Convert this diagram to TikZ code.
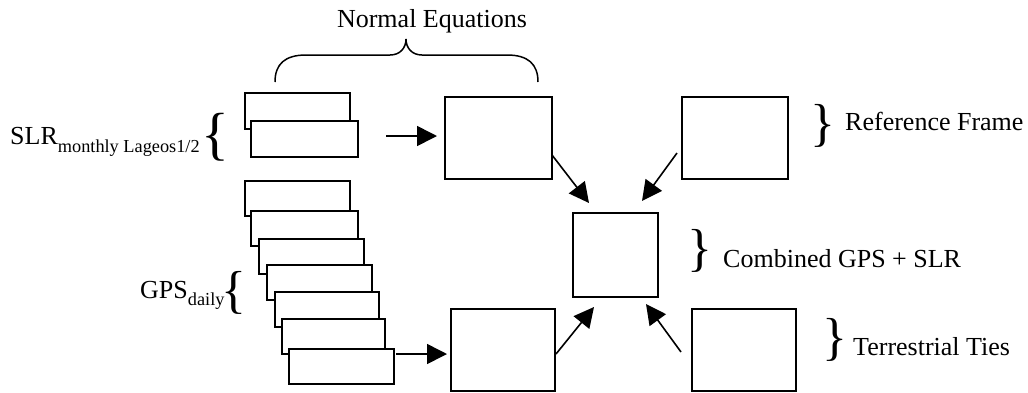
\documentclass[tikz,border=0pt]{standalone}
\usepackage{fontspec}
\setmainfont{Liberation Serif}
\usetikzlibrary{arrows.meta}
\begin{document}
\begin{tikzpicture}[x=1pt,y=-1pt,
  box/.style 2 args={draw, fill=white, line width=1.6pt, inner sep=0pt,
    minimum width=#1pt, minimum height=#2pt, anchor=north west},
  arr/.style={line width=1.6pt, -{Triangle[length=20pt,width=20pt]}},
  lab/.style={inner sep=0pt, font=\fontsize{26}{30}\selectfont},
  brc/.style={inner sep=0pt, font=\fontsize{#1}{#1}\selectfont}]
\useasboundingbox (0,0) rectangle (1028,392);

% SLR stack
\node[box={105}{36}] (s1) at (244,92) {};
\node[box={107}{36}] (s2) at (250,120) {};
% GPS stack
\node[box={105}{35}] (g1) at (244,180) {};
\node[box={107}{35}] (g2) at (250,210) {};
\node[box={105}{35}] (g3) at (258,238) {};
\node[box={105}{35}] (g4) at (266,264) {};
\node[box={104}{35}] (g5) at (274,291) {};
\node[box={103}{35}] (g6) at (281,318) {};
\node[box={105}{35}] (g7) at (288,348) {};

% main boxes
\node[box={107}{82}] (ne1) at (444,96) {};
\node[box={104}{82}] (ne2) at (450,308) {};
\node[box={85}{84}] (cmb) at (572,212) {};
\node[box={106}{82}] (ref) at (681,96) {};
\node[box={104}{82}] (ter) at (691,308) {};

% horizontal arrows
\coordinate (a1s) at (386,136);
\draw[arr, shorten >=7pt] (a1s) -- (a1s -| ne1.west);
\coordinate (a2s) at (396,354);
\draw[arr, shorten >=3pt] (a2s) -- (a2s -| ne2.west);

% diagonal arrows
\coordinate (d1s) at (552,155); \coordinate (d1e) at (589,203);
\coordinate (d2s) at (677,153); \coordinate (d2e) at (642,201);
\coordinate (d3s) at (556,354); \coordinate (d3e) at (594,307);
\coordinate (d4s) at (681,352); \coordinate (d4e) at (646,304);
\draw[arr] (d1s) -- (d1e);
\draw[arr] (d2s) -- (d2e);
\draw[arr] (d3s) -- (d3e);
\draw[arr] (d4s) -- (d4e);

% top brace
\draw[line width=1.5pt] (275,82) .. controls (275,64) and (285,55) .. (306,55)
  -- (390,55) .. controls (400,55) and (406,48) .. (406,39)
  .. controls (406,48) and (412,55) .. (422,55)
  -- (507,55) .. controls (528,55) and (538,64) .. (538,82);
\node[lab, anchor=base] (ltop) at (432,27) {Normal Equations};

% left labels and braces
\node[lab, anchor=base west] (lslr) at (10,144)
  {SLR\raisebox{-8pt}{\fontsize{18.3}{20}\selectfont monthly Lageos1/2}};
\node[brc=58] (bslr) at (215,137) {\{};
\node[lab, anchor=base west] (lgps) at (140,298)
  {GPS\raisebox{-7pt}{\fontsize{18.3}{20}\selectfont daily}};
\node[brc=52] (bgps) at (233.5,292.5) {\{};

% right braces and labels
\node[brc=52] (bref) at (822.5,125.5) {\}};
\node[lab, anchor=base west] (lref) at (845,130) {Reference Frame};
\node[brc=52] (bcmb) at (700,250.5) {\}};
\node[lab, anchor=base west] (lcmb) at (723,267) {Combined GPS + SLR};
\node[brc=52] (bter) at (834.5,340) {\}};
\node[lab, anchor=base west] (lter) at (853,355) {Terrestrial Ties};
\end{tikzpicture}
\end{document}
